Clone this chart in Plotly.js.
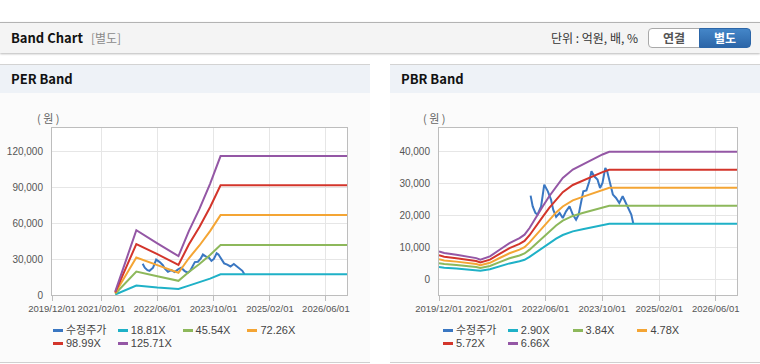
<!DOCTYPE html>
<html><head><meta charset="utf-8">
<script src="https://cdn.plot.ly/plotly-3.0.1.min.js"></script>
<style>
html,body{margin:0;padding:0;background:#fff;width:760px;height:364px;overflow:hidden;font-family:"Noto Sans CJK KR","Noto Sans",sans-serif;}
#topbar{position:absolute;left:0;top:22px;width:760px;height:30px;background:#f4f4f4;border-top:1px solid #b3b3b3;box-shadow:0 1px 2px rgba(0,0,0,0.28);}
#topbar .title{position:absolute;left:11px;top:0;line-height:30px;font-size:13px;font-weight:bold;color:#111;}
#topbar .sub{color:#8a8a8a;font-weight:normal;font-size:12px;margin-left:8px;}
#unit{position:absolute;left:551px;top:0;line-height:30px;font-size:12px;color:#333;}
.btn{position:absolute;top:5px;height:20px;font-size:12px;font-weight:bold;text-align:center;line-height:18px;box-sizing:border-box;}
#b1{left:648px;width:52px;background:#fff;border:1px solid #a9a9a9;border-radius:4px 0 0 4px;color:#555;}
#b2{left:699px;width:52px;background:linear-gradient(#4486c8,#2c66a8);border:1px solid #2c66a8;border-radius:0 4px 4px 0;color:#fff;}
.panel{position:absolute;top:64px;width:370px;height:297px;background:#fbfbfb;border-top:1px solid #d3d3d3;border-bottom:1px solid #d0d0d0;}
.panel .hd{height:28px;background:#eef2f7;font-size:13px;font-weight:bold;color:#111;line-height:28px;padding-left:11px;}
.chart{position:absolute;left:0;top:28px;width:370px;height:269px;}
.leg{position:absolute;width:270px;font-family:"Liberation Sans","Noto Sans CJK KR",sans-serif;font-size:11px;color:#444;}
.leg .it{position:absolute;height:14px;line-height:14px;white-space:nowrap;}
.leg .sw{display:inline-block;width:10px;height:3px;vertical-align:middle;margin-right:3px;position:relative;top:-1px;}
</style>
</head><body>
<div id="topbar">
  <div class="title">Band Chart<span class="sub">[별도]</span></div>
  <div id="unit">단위 : 억원, 배, %</div>
  <div class="btn" id="b1">연결</div>
  <div class="btn" id="b2">별도</div>
</div>
<div class="panel" style="left:0;">
  <div class="hd">PER Band</div>
  <div class="chart" id="per"></div>
  <div class="leg" id="perLeg" style="left:53px;top:258px;"></div>
</div>
<div class="panel" style="left:390px;">
  <div class="hd">PBR Band</div>
  <div class="chart" id="pbr"></div>
  <div class="leg" id="pbrLeg" style="left:53px;top:258px;"></div>
</div>
<script>
// ---------- data ----------
const xTickVals = ['2019-12-01','2021-02-01','2022-06-01','2023-10-01','2025-02-01','2026-06-01'];
const xTickText = ['2019/12/01','2021/02/01','2022/06/01','2023/10/01','2025/02/01','2026/06/01'];
const xRange = ['2019-12-01','2026-12-01'];

const perNames = ['수정주가','18.81X','45.54X','72.26X','98.99X','125.71X'];
const pbrNames = ['수정주가','2.90X','3.84X','4.78X','5.72X','6.66X'];
const seriesColors = ['#3a77c2','#1fb1c7','#8db85b','#f4a534','#d3352b','#9457a5'];

const priceDates = ['2022-01-25','2022-02-12','2022-03-07','2022-03-25','2022-04-25','2022-05-22','2022-06-22','2022-07-19','2022-08-07','2022-09-01','2022-10-01','2022-10-28','2022-11-25','2022-12-25','2023-01-22','2023-02-19','2023-03-13','2023-04-01','2023-04-22','2023-05-19','2023-06-13','2023-07-01','2023-07-25','2023-08-22','2023-09-13','2023-10-04','2023-10-28','2023-11-13','2023-12-07','2024-01-01','2024-01-28','2024-02-25','2024-03-25','2024-04-22','2024-05-19','2024-06-07','2024-06-25'];
const priceVals = [26240,22870,20790,20260,22870,29700,27600,25000,21820,19530,20790,19200,21300,22870,20260,18690,20260,23940,27600,27900,30740,33900,32320,31270,28650,30220,34950,33900,30220,26560,25500,23940,26040,23940,21820,20260,17320];

const perDates = ['2021-06-01','2021-12-01','2022-06-01','2022-12-01','2023-03-01','2023-06-01','2023-09-01','2023-12-01','2026-12-01'];
const per1881 = [400,7900,6300,5100,7900,10500,13700,17300,17300];
const per4554 = [1000,19600,15700,11900,19300,26000,33500,41900,41900];
const per7226 = [1600,31400,25000,18600,30800,41500,53600,67000,67000];
const per9899 = [2200,42700,34200,25200,42300,57000,73600,92000,92000];
const per12571 = [2800,54300,43300,32600,53600,72200,93200,116500,116500];

const pbrDates = ['2019-12-01','2020-01-15','2020-04-28','2020-08-01','2020-10-15','2020-11-20','2021-02-10','2021-05-04','2021-07-28','2021-10-22','2021-12-04','2022-01-16','2022-03-13','2022-05-10','2022-07-04','2022-09-01','2022-10-28','2023-01-22','2023-04-16','2023-07-10','2023-10-04','2023-12-01','2026-12-01'];
const pbr290 = [3790,3570,3330,3110,2870,2650,3110,4020,4930,5620,6080,6990,8360,9970,11340,12710,13860,15000,15690,16370,17060,17430,17430];
const pbr384 = [5020,4730,4410,4110,3810,3510,4110,5320,6530,7440,8050,9260,11070,13200,15010,16830,18350,19860,20770,21680,22590,23080,23080];
const pbr478 = [6240,5880,5490,5120,4740,4370,5120,6630,8130,9260,10020,11530,13790,16430,18690,20950,22840,24730,25860,26990,28120,28720,28720];
const pbr572 = [7470,7040,6570,6130,5670,5230,6130,7930,9730,11090,11990,13790,16500,19660,22370,25070,27330,29590,30950,32300,33650,34370,34370];
const pbr666 = [8700,8200,7650,7130,6600,6090,7130,9230,11330,12910,13960,16060,19210,22890,26040,29190,31820,34450,36030,37600,39180,40020,40020];

// ---------- drawing ----------
const XFONT = {family:'"Liberation Sans",Arial,sans-serif', size:9.5, color:'#555'};
const YFONT = {family:'"Liberation Sans",Arial,sans-serif', size:10, color:'#555'};

function traces(names, bandDates, bands){
  const out = [{x:priceDates, y:priceVals, name:names[0], mode:'lines',
               line:{color:seriesColors[0], width:2}, hoverinfo:'skip'}];
  bands.forEach((b,i)=>{
    out.push({x:bandDates, y:b, name:names[i+1], mode:'lines',
              line:{color:seriesColors[i+1], width:2}, hoverinfo:'skip'});
  });
  return out;
}

function layout(l, w, yRange, dtick, unitX){
  return {
    width:370, height:269, margin:{l:l, r:370-l-w, t:35, b:67},
    paper_bgcolor:'rgba(0,0,0,0)', plot_bgcolor:'#ffffff',
    showlegend:false, font:YFONT,
    xaxis:{type:'date', range:xRange, tickmode:'array', tickvals:xTickVals, ticktext:xTickText,
           tickangle:0, showgrid:true, gridcolor:'#e6e6e6', gridwidth:1, showline:true, mirror:true,
           linecolor:'#bdbdbd', linewidth:1, ticks:'outside', ticklen:5, tickcolor:'#bdbdbd',
           tickfont:XFONT, zeroline:false, fixedrange:true},
    yaxis:{range:yRange, tick0:0, dtick:dtick, tickformat:',d', showgrid:true, gridcolor:'#e6e6e6',
           showline:true, mirror:true, linecolor:'#bdbdbd', linewidth:1, ticks:'',
           ticklabelstandoff:6, tickfont:YFONT, zeroline:false, fixedrange:true},
    annotations:[{text:'( 원 )', xref:'paper', yref:'paper', x:unitX, y:1.06, xanchor:'center', yanchor:'middle',
                  showarrow:false, font:{family:'"Noto Sans CJK KR",sans-serif', size:11, color:'#666'}}]
  };
}

function legend(id, names){
  const el = document.getElementById(id);
  names.forEach((n,i)=>{
    const it = document.createElement('div');
    it.className = 'it';
    it.style.left = ((i%4)*64.8) + 'px';
    it.style.top = (Math.floor(i/4)*13.4) + 'px';
    const sw = document.createElement('span');
    sw.className = 'sw'; sw.style.background = seriesColors[i];
    it.appendChild(sw);
    it.appendChild(document.createTextNode(n));
    el.appendChild(it);
  });
}

Plotly.newPlot('per', traces(perNames, perDates, [per1881,per4554,per7226,per9899,per12571]),
  layout(52, 295, [0,140000], 30000, -0.015), {staticPlot:true});
Plotly.newPlot('pbr', traces(pbrNames, pbrDates, [pbr290,pbr384,pbr478,pbr572,pbr666]),
  layout(49, 298, [-5000,47500], 10000, -0.017), {staticPlot:true});
legend('perLeg', perNames);
legend('pbrLeg', pbrNames);
</script>
</body></html>
